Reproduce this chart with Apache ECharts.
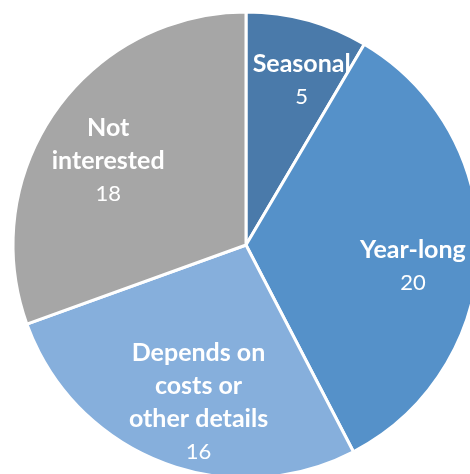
<!DOCTYPE html>
<html>
<head>
<meta charset="utf-8">
<script src="https://cdn.jsdelivr.net/npm/echarts@6/dist/echarts.min.js"></script>
<style>
  html, body { margin: 0; padding: 0; background: #fff; }
  #chart { width: 470px; height: 474px; }
</style>
</head>
<body>
<div id="chart"></div>
<script>
// categories and values
var categories = ['Seasonal', 'Year-long', 'Depends on\ncosts or\nother details', 'Not\ninterested'];
var counts = [5, 20, 16, 18];
var colors = ['#4a7aaa', '#5591c9', '#86afdc', '#a6a6a6'];
// small nudges so the labels sit where the original put them
var labelNudge = [[12, -4], [1, 17], [13, 3], [-2, 11]];

var pieData = categories.map(function (name, i) {
  return { name: name, value: counts[i], itemStyle: { color: colors[i] } };
});

var chart = echarts.init(document.getElementById('chart'));
chart.setOption({
  animation: false,
  series: [
    {
      // the slices
      type: 'pie',
      center: [246, 245],
      radius: [0, 233],
      startAngle: 90,
      clockwise: true,
      silent: true,
      itemStyle: { borderColor: '#ffffff', borderWidth: 3 },
      label: { show: false },
      labelLine: { show: false },
      data: pieData
    },
    {
      // ring only used to place labels further out than mid-radius
      type: 'pie',
      center: [246, 245],
      radius: [93, 233],
      startAngle: 90,
      clockwise: true,
      silent: true,
      itemStyle: { color: 'rgba(0,0,0,0)' },
      labelLine: { show: false },
      label: {
        show: true,
        position: 'inside',
        formatter: function (p) {
          var lines = p.name.split('\n').map(function (s) { return '{n|' + s + '}'; });
          return lines.join('\n') + '\n{v|' + p.value + '}';
        },
        rich: {
          n: { fontFamily: 'Lato', fontWeight: 'bold', fontSize: 25, color: '#fff', lineHeight: 33, align: 'center' },
          v: { fontFamily: 'Lato', fontWeight: 'normal', fontSize: 22, color: '#fff', lineHeight: 33, align: 'center' }
        }
      },
      data: pieData.map(function (d, i) {
        return { name: d.name, value: d.value, label: { offset: labelNudge[i] } };
      })
    }
  ]
});
</script>
</body>
</html>
